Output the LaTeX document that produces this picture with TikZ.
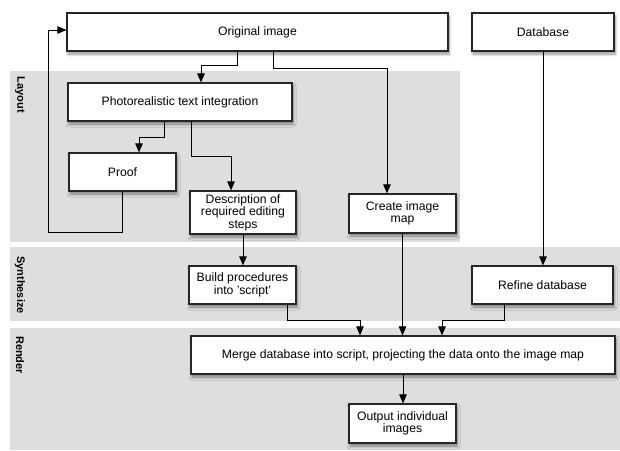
\documentclass[tikz,border=0pt]{standalone}
\usepackage{fontspec}
\setmainfont{Liberation Sans}
\usetikzlibrary{arrows.meta,shadows,shadows.blur}
\definecolor{bandgray}{RGB}{222,222,222}
\tikzset{
  box/.style={draw=black!85, line width=1.2pt, fill=white, align=center, inner sep=1pt,
    font=\fontsize{12.2}{12.6}\selectfont,
    blur shadow={shadow xshift=1pt, shadow yshift=-3pt, shadow blur radius=3pt, shadow blur steps=6, shadow opacity=45}},
  arr/.style={draw=black, line width=1pt, -{Triangle[length=9pt,width=7.5pt]}},
  band/.style={fill=bandgray},
  bandlabel/.style={rotate=-90, font=\fontsize{11}{12}\selectfont\bfseries}
}
\begin{document}
\begin{tikzpicture}[x=1pt,y=-1pt]
\useasboundingbox (0,0) rectangle (620,450);
% bands
\fill[band] (10,71) rectangle (460,242);
\fill[band] (10,247) rectangle (620,321);
\fill[band] (10,328) rectangle (620,450);
\node[bandlabel] (lay) at (20,95) {Layout};
\node[bandlabel] (syn) at (20,285) {Synthesize};
\node[bandlabel] (ren) at (20,355) {Render};
% boxes
\node[box, minimum width=381, minimum height=38] (orig) at (257.5,32) {Original image};
\node[box, minimum width=142, minimum height=38] (db) at (543,32) {Database};
\node[box, minimum width=224, minimum height=38] (photo) at (180,102) {Photorealistic text integration};
\node[box, minimum width=107, minimum height=38] (proof) at (122.5,172) {Proof};
\node[box, minimum width=106, minimum height=43] (desc) at (243,212.5) {Description of\\required editing\\steps};
\node[box, minimum width=107, minimum height=39] (cmap) at (402.5,213.5) {Create image\\map};
\node[box, minimum width=107, minimum height=38] (build) at (242.5,285) {Build procedures\\into 'script'};
\node[box, minimum width=141, minimum height=38] (refine) at (542.5,285) {Refine database};
\node[box, minimum width=424, minimum height=38] (merge) at (403,355) {Merge database into script, projecting the data onto the image map};
\node[box, minimum width=107, minimum height=39] (out) at (402.5,423.5) {Output individual\\images};
% bend points
\coordinate (k1) at (237,65);
\coordinate (k2) at (273,68);
\coordinate (k3) at (164,137);
\coordinate (k4) at (191,156);
\coordinate (k5) at (48,232);
\coordinate (k9) at (287,320);
\coordinate (k10) at (504,320);
% connectors
\draw[arr] (orig.south -| k1) -- (k1) -| ([xshift=21]photo.north);
\draw[arr] (orig.south -| k2) -- (k2) -| ([xshift=-15.5]cmap.north);
\draw[arr] (photo.south -| k3) -- (k3) -| ([xshift=16.5]proof.north);
\draw[arr] (photo.south -| k4) -- (k4) -| ([xshift=-12]desc.north);
\draw[arr] (proof.south) |- (k5) |- ([yshift=2]orig.west);
\draw[arr] (desc.south) -- (desc.south |- build.north);
\draw[arr] (db.south) -- (db.south |- refine.north);
\draw[arr] (cmap.south) -- (cmap.south |- merge.north);
\draw[arr] (build.south -| k9) -- (k9) -| ([xshift=-43]merge.north);
\draw[arr] (refine.south -| k10) -- (k10) -| ([xshift=39]merge.north);
\draw[arr] (merge.south) -- (merge.south |- out.north);
\end{tikzpicture}
\end{document}
